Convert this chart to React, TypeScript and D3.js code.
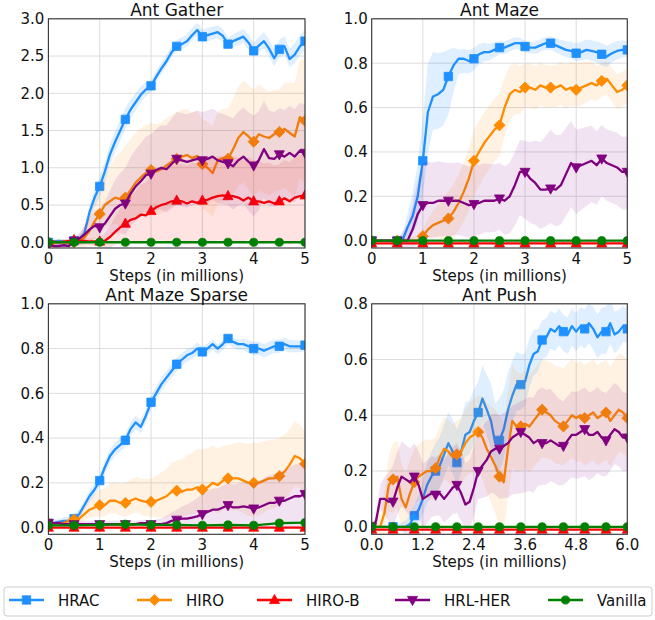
import React from "react";
import * as d3 from "d3";

// ---------- sampling grids (steps, in millions) ----------
const X5 = d3.range(51).map((i) => i / 10);
const X6 = d3.range(61).map((i) => i / 10);
const H5 = d3.range(11).map((i) => i / 2);
const H6 = d3.range(13).map((i) => i / 2);

const METHODS = ["HRAC", "HIRO", "HIRO-B", "HRL-HER", "Vanilla"];
const COLORS = ["#1E90FF", "#FF8C00", "#FF0000", "#800080", "#008000"];
const MARKERS = ["square", "diamond", "triUp", "triDown", "circle"];

// ---------- Ant Gather ----------
const GATHER_HRAC = [0.0, 0.01, 0.02, 0.01, 0.0, 0.02, 0.04, 0.12, 0.4, 0.6, 0.75, 0.95, 1.18, 1.35, 1.5, 1.65, 1.78, 1.88, 1.98, 2.05, 2.1, 2.22, 2.33, 2.43, 2.55, 2.63, 2.66, 2.7, 2.78, 2.85, 2.76, 2.78, 2.8, 2.82, 2.77, 2.66, 2.7, 2.73, 2.76, 2.68, 2.57, 2.64, 2.7, 2.6, 2.47, 2.59, 2.63, 2.46, 2.52, 2.63, 2.7];
const GATHER_HIRO = [-0.02, -0.01, 0.0, 0.0, -0.01, 0.0, 0.02, 0.06, 0.15, 0.28, 0.38, 0.5, 0.55, 0.6, 0.58, 0.6, 0.7, 0.8, 0.87, 0.93, 0.97, 0.95, 0.98, 1.03, 1.08, 1.12, 1.15, 1.17, 1.13, 1.16, 1.05, 1.0, 0.93, 1.1, 1.13, 1.12, 1.25, 1.4, 1.48, 1.42, 1.35, 1.45, 1.42, 1.4, 1.45, 1.48, 1.52, 1.47, 1.42, 1.68, 1.63];
const GATHER_HIROB = [0.0, 0.01, 0.0, 0.01, 0.02, 0.03, 0.02, 0.02, 0.01, 0.01, 0.01, 0.02, 0.07, 0.14, 0.2, 0.25, 0.3, 0.32, 0.37, 0.36, 0.42, 0.47, 0.5, 0.52, 0.55, 0.56, 0.55, 0.52, 0.55, 0.53, 0.56, 0.57, 0.6, 0.62, 0.63, 0.62, 0.62, 0.6, 0.56, 0.6, 0.55, 0.55, 0.53, 0.55, 0.52, 0.55, 0.59, 0.55, 0.6, 0.62, 0.63];
const GATHER_HRLHER = [-0.03, -0.05, -0.05, -0.04, -0.05, 0.02, 0.05, 0.1, 0.17, 0.22, 0.2, 0.25, 0.35, 0.45, 0.5, 0.52, 0.65, 0.75, 0.82, 0.9, 0.92, 0.97, 1.0, 0.98, 1.05, 1.12, 1.1, 1.08, 1.1, 1.12, 1.1, 1.12, 1.15, 1.1, 1.08, 1.06, 1.02, 1.1, 1.15, 1.08, 1.03, 1.1, 1.25, 1.13, 1.12, 1.18, 1.15, 1.2, 1.15, 1.23, 1.2];
const GATHER_VANILLA = [0, 0, 0, 0, 0, 0, 0, 0, 0, 0, 0];
const GATHER_HRAC_LO = [-0.02, -0.01, 0.6, 1.52, 2.02, 2.57, 2.68, 2.58, 2.48, 2.48, 2.58];
const GATHER_HRAC_HI = [0.03, 0.05, 0.88, 1.8, 2.18, 2.72, 2.86, 2.75, 2.68, 2.72, 2.86];
const GATHER_HIRO_LO = [-0.05, -0.03, 0.1, 0.2, 0.4, 0.5, 0.45, 0.55, 0.6, 0.7, 0.8];
const GATHER_HIRO_HI = [0.02, 0.04, 0.7, 1.3, 1.6, 1.75, 1.65, 1.8, 2.05, 2.05, 2.45];
const GATHER_HIROB_LO = [-0.02, -0.02, -0.05, 0.0, 0.0, 0.0, 0.0, 0.0, 0.0, 0.0, 0.0];
const GATHER_HIROB_HI = [0.02, 0.06, 0.06, 0.55, 0.9, 1.05, 1.1, 1.15, 1.1, 1.05, 1.2];
const GATHER_HRLHER_LO = [-0.08, -0.05, 0.0, 0.1, 0.4, 0.5, 0.5, 0.5, 0.35, 0.55, 0.6];
const GATHER_HRLHER_HI = [0.0, 0.05, 0.45, 1.0, 1.45, 1.75, 1.75, 1.7, 1.7, 1.8, 1.85];

// ---------- Ant Maze ----------
const MAZE_HRAC = [0, 0, 0, 0, 0, 0, 0, 0.06, 0.11, 0.2, 0.36, 0.58, 0.65, 0.66, 0.68, 0.74, 0.79, 0.82, 0.82, 0.81, 0.82, 0.84, 0.85, 0.85, 0.86, 0.87, 0.87, 0.88, 0.89, 0.89, 0.875, 0.87, 0.87, 0.88, 0.89, 0.89, 0.88, 0.87, 0.86, 0.855, 0.845, 0.85, 0.86, 0.855, 0.85, 0.84, 0.83, 0.845, 0.855, 0.86, 0.86];
const MAZE_HIRO = [0, 0, 0, 0, 0, 0, 0, 0, 0, 0, 0.02, 0.05, 0.07, 0.08, 0.09, 0.1, 0.13, 0.17, 0.22, 0.28, 0.36, 0.4, 0.44, 0.47, 0.5, 0.52, 0.6, 0.66, 0.68, 0.67, 0.69, 0.69, 0.68, 0.7, 0.69, 0.69, 0.69, 0.7, 0.68, 0.69, 0.68, 0.69, 0.7, 0.71, 0.7, 0.72, 0.73, 0.7, 0.67, 0.68, 0.7];
const MAZE_HIROB = [-0.012, -0.012, -0.012, -0.012, -0.012, -0.012, -0.012, -0.012, -0.012, -0.012, -0.012];
const MAZE_HRLHER = [0, 0, 0, 0, 0, 0, 0, 0, 0.05, 0.12, 0.16, 0.17, 0.17, 0.18, 0.18, 0.18, 0.18, 0.18, 0.17, 0.16, 0.165, 0.17, 0.18, 0.18, 0.18, 0.19, 0.18, 0.2, 0.25, 0.31, 0.31, 0.28, 0.26, 0.23, 0.23, 0.235, 0.23, 0.25, 0.3, 0.35, 0.33, 0.34, 0.35, 0.36, 0.34, 0.37, 0.35, 0.34, 0.33, 0.31, 0.31];
const MAZE_VANILLA = [0, 0, 0, 0, 0, 0, 0, 0, 0, 0, 0];
const MAZE_HRAC_BAND_X = [0, 0.5, 0.7, 0.9, 1.0, 1.1, 1.2, 1.4, 1.5, 1.7, 2.0, 2.5, 3.0, 3.5, 4.0, 4.5, 5.0];
const MAZE_HRAC_LO = [0, -0.01, 0.02, 0.08, 0.2, 0.4, 0.5, 0.52, 0.57, 0.75, 0.77, 0.84, 0.85, 0.86, 0.81, 0.79, 0.83];
const MAZE_HRAC_HI = [0, 0.01, 0.12, 0.35, 0.55, 0.8, 0.85, 0.85, 0.86, 0.86, 0.87, 0.9, 0.9, 0.92, 0.89, 0.89, 0.9];
const MAZE_HIRO_LO = [0, 0, 0.0, 0.0, 0.2, 0.38, 0.6, 0.6, 0.6, 0.65, 0.62];
const MAZE_HIRO_HI = [0, 0, 0.05, 0.22, 0.5, 0.66, 0.8, 0.79, 0.8, 0.8, 0.78];
const MAZE_HRLHER_LO = [0, 0, 0.0, 0.02, 0.02, 0.05, 0.1, 0.08, 0.12, 0.2, 0.14];
const MAZE_HRLHER_HI = [0, 0, 0.35, 0.35, 0.34, 0.35, 0.45, 0.5, 0.5, 0.52, 0.47];

// ---------- Ant Maze Sparse ----------
const SPARSE_HRAC = [0.02, 0.02, 0.025, 0.03, 0.03, 0.04, 0.06, 0.1, 0.14, 0.17, 0.21, 0.27, 0.32, 0.35, 0.37, 0.39, 0.44, 0.47, 0.45, 0.5, 0.56, 0.6, 0.64, 0.67, 0.7, 0.73, 0.75, 0.77, 0.78, 0.8, 0.785, 0.8, 0.82, 0.8, 0.82, 0.845, 0.83, 0.82, 0.82, 0.81, 0.8, 0.8, 0.79, 0.8, 0.81, 0.81, 0.82, 0.81, 0.81, 0.81, 0.815];
const SPARSE_HIRO = [0.02, 0.02, 0.02, 0.02, 0.03, 0.035, 0.04, 0.06, 0.08, 0.09, 0.1, 0.1, 0.12, 0.12, 0.11, 0.11, 0.12, 0.13, 0.12, 0.115, 0.115, 0.12, 0.13, 0.14, 0.16, 0.165, 0.16, 0.17, 0.17, 0.18, 0.17, 0.18, 0.2, 0.19, 0.21, 0.22, 0.22, 0.22, 0.21, 0.2, 0.2, 0.2, 0.21, 0.22, 0.22, 0.23, 0.25, 0.28, 0.32, 0.31, 0.285];
const SPARSE_HIROB = [0, 0, 0, 0, 0, 0, 0, 0, 0, 0, 0];
const SPARSE_HRLHER = [0.02, 0.02, 0.02, 0.015, 0.015, 0.015, 0.015, 0.015, 0.015, 0.015, 0.015, 0.015, 0.015, 0.015, 0.015, 0.015, 0.015, 0.015, 0.02, 0.02, 0.015, 0.015, 0.015, 0.02, 0.03, 0.035, 0.04, 0.04, 0.045, 0.05, 0.06, 0.07, 0.08, 0.08, 0.09, 0.1, 0.09, 0.09, 0.095, 0.09, 0.085, 0.09, 0.1, 0.11, 0.11, 0.12, 0.12, 0.13, 0.14, 0.14, 0.15];
const SPARSE_VANILLA = [0.01, 0.01, 0.012, 0.015, 0.012, 0.012, 0.01, 0.012, 0.01, 0.02, 0.022];
const SPARSE_HRAC_LO = [0.01, 0.02, 0.18, 0.36, 0.53, 0.7, 0.76, 0.82, 0.77, 0.78, 0.79];
const SPARSE_HRAC_HI = [0.03, 0.06, 0.24, 0.42, 0.59, 0.76, 0.81, 0.86, 0.83, 0.84, 0.84];
const SPARSE_HIRO_LO = [0.01, 0.02, 0.05, 0.05, 0.05, 0.05, 0.06, 0.08, 0.05, 0.1, 0.15];
const SPARSE_HIRO_HI = [0.03, 0.05, 0.17, 0.2, 0.22, 0.3, 0.35, 0.37, 0.38, 0.4, 0.43];
const SPARSE_HRLHER_LO = [0.01, 0.01, 0.01, 0.01, 0.01, 0.0, 0.0, 0.0, 0.0, 0.0, 0.0];
const SPARSE_HRLHER_HI = [0.03, 0.03, 0.03, 0.03, 0.03, 0.08, 0.15, 0.2, 0.2, 0.25, 0.3];

// ---------- Ant Push ----------
const PUSH_HRAC = [0, 0, 0, 0, 0, 0, 0, 0, 0, 0.01, 0.04, 0.06, 0.1, 0.15, 0.18, 0.2, 0.22, 0.26, 0.3, 0.27, 0.23, 0.27, 0.33, 0.34, 0.38, 0.41, 0.46, 0.42, 0.38, 0.3, 0.31, 0.35, 0.42, 0.47, 0.51, 0.51, 0.52, 0.58, 0.62, 0.63, 0.67, 0.68, 0.71, 0.7, 0.72, 0.7, 0.69, 0.72, 0.7, 0.72, 0.71, 0.73, 0.71, 0.68, 0.7, 0.7, 0.73, 0.69, 0.7, 0.72, 0.71];
const PUSH_HIRO = [0, 0, 0, 0.05, 0.15, 0.17, 0.18, 0.1, 0.07, 0.12, 0.16, 0.18, 0.19, 0.2, 0.2, 0.21, 0.25, 0.28, 0.27, 0.25, 0.26, 0.27, 0.3, 0.32, 0.33, 0.34, 0.32, 0.28, 0.25, 0.22, 0.18, 0.16, 0.28, 0.38, 0.36, 0.36, 0.37, 0.36, 0.38, 0.4, 0.42, 0.41, 0.4, 0.38, 0.37, 0.36, 0.38, 0.4, 0.39, 0.4, 0.39, 0.4, 0.41, 0.39, 0.4, 0.41, 0.38, 0.4, 0.42, 0.41, 0.39];
const PUSH_HIROB = [-0.01, -0.01, -0.01, -0.01, -0.01, -0.01, -0.01, -0.01, -0.01, -0.01, -0.01, -0.01, -0.01];
const PUSH_HRLHER = [0, 0.02, 0.1, 0.1, 0.09, 0.09, 0.14, 0.18, 0.17, 0.16, 0.18, 0.15, 0.1, 0.11, 0.12, 0.115, 0.12, 0.1, 0.12, 0.14, 0.15, 0.12, 0.08, 0.09, 0.14, 0.2, 0.22, 0.24, 0.27, 0.28, 0.28, 0.29, 0.3, 0.32, 0.33, 0.34, 0.33, 0.32, 0.3, 0.31, 0.3, 0.3, 0.31, 0.3, 0.29, 0.29, 0.31, 0.33, 0.33, 0.34, 0.35, 0.33, 0.33, 0.34, 0.32, 0.31, 0.33, 0.35, 0.34, 0.32, 0.32];
const PUSH_VANILLA = [0, 0, 0, 0, 0, 0, 0, 0, 0, 0, 0, 0, 0];
const PUSH_HRAC_LO = [0, 0, 0.0, 0.12, 0.15, 0.33, 0.2, 0.42, 0.6, 0.63, 0.64, 0.62, 0.66];
const PUSH_HRAC_HI = [0, 0, 0.08, 0.3, 0.35, 0.52, 0.46, 0.62, 0.74, 0.76, 0.78, 0.79, 0.78];
const PUSH_HIRO_LO = [0, 0.05, 0.08, 0.1, 0.15, 0.2, 0.0, 0.2, 0.25, 0.22, 0.22, 0.24, 0.25];
const PUSH_HIRO_HI = [0, 0.3, 0.28, 0.32, 0.38, 0.47, 0.4, 0.55, 0.6, 0.57, 0.58, 0.6, 0.6];
const PUSH_HRLHER_LO = [0, 0.0, 0.05, 0.04, 0.05, 0.1, 0.1, 0.12, 0.15, 0.15, 0.18, 0.18, 0.2];
const PUSH_HRLHER_HI = [0, 0.22, 0.3, 0.25, 0.3, 0.35, 0.4, 0.45, 0.5, 0.45, 0.5, 0.48, 0.48];

const X_TICKS_5 = [0, 1, 2, 3, 4, 5];
const X_TICKS_6 = [0, 1.2, 2.4, 3.6, 4.8, 6.0];
const Y_TICKS_GATHER = [0, 0.5, 1.0, 1.5, 2.0, 2.5, 3.0];
const Y_TICKS_1 = [0, 0.2, 0.4, 0.6, 0.8, 1.0];
const Y_TICKS_PUSH = [0, 0.2, 0.4, 0.6, 0.8];

type Band = { xs: number[]; lo: number[]; hi: number[] };
type Series = { idx: number; xs: number[]; ys: number[]; band?: Band };
type Panel = {
  title: string;
  xMax: number;
  xTicks: number[];
  xFmt: (v: number) => string;
  yMin: number;
  yMax: number;
  yTicks: number[];
  series: Series[];
  left: number;
  right: number;
  top: number;
  bottom: number;
};

const fmtInt = (v: number) => d3.format("d")(v);
const fmt1 = (v: number) => d3.format(".1f")(v);

const PANELS: Panel[] = [
  {
    title: "Ant Gather", xMax: 5, xTicks: X_TICKS_5, xFmt: fmtInt, yMin: -0.077, yMax: 3.0, yTicks: Y_TICKS_GATHER,
    left: 48.4, right: 305, top: 18.8, bottom: 248,
    series: [
      { idx: 0, xs: X5, ys: GATHER_HRAC, band: { xs: H5, lo: GATHER_HRAC_LO, hi: GATHER_HRAC_HI } },
      { idx: 1, xs: X5, ys: GATHER_HIRO, band: { xs: H5, lo: GATHER_HIRO_LO, hi: GATHER_HIRO_HI } },
      { idx: 2, xs: X5, ys: GATHER_HIROB, band: { xs: H5, lo: GATHER_HIROB_LO, hi: GATHER_HIROB_HI } },
      { idx: 3, xs: X5, ys: GATHER_HRLHER, band: { xs: H5, lo: GATHER_HRLHER_LO, hi: GATHER_HRLHER_HI } },
      { idx: 4, xs: H5, ys: GATHER_VANILLA },
    ],
  },
  {
    title: "Ant Maze", xMax: 5, xTicks: X_TICKS_5, xFmt: fmtInt, yMin: -0.033, yMax: 1.0, yTicks: Y_TICKS_1,
    left: 371.7, right: 627.3, top: 18.8, bottom: 248,
    series: [
      { idx: 0, xs: X5, ys: MAZE_HRAC, band: { xs: MAZE_HRAC_BAND_X, lo: MAZE_HRAC_LO, hi: MAZE_HRAC_HI } },
      { idx: 1, xs: X5, ys: MAZE_HIRO, band: { xs: H5, lo: MAZE_HIRO_LO, hi: MAZE_HIRO_HI } },
      { idx: 2, xs: H5, ys: MAZE_HIROB },
      { idx: 3, xs: X5, ys: MAZE_HRLHER, band: { xs: H5, lo: MAZE_HRLHER_LO, hi: MAZE_HRLHER_HI } },
      { idx: 4, xs: H5, ys: MAZE_VANILLA },
    ],
  },
  {
    title: "Ant Maze Sparse", xMax: 5, xTicks: X_TICKS_5, xFmt: fmtInt, yMin: -0.03, yMax: 1.0, yTicks: Y_TICKS_1,
    left: 48.4, right: 305, top: 303.8, bottom: 534.3,
    series: [
      { idx: 0, xs: X5, ys: SPARSE_HRAC, band: { xs: H5, lo: SPARSE_HRAC_LO, hi: SPARSE_HRAC_HI } },
      { idx: 1, xs: X5, ys: SPARSE_HIRO, band: { xs: H5, lo: SPARSE_HIRO_LO, hi: SPARSE_HIRO_HI } },
      { idx: 2, xs: H5, ys: SPARSE_HIROB },
      { idx: 3, xs: X5, ys: SPARSE_HRLHER, band: { xs: H5, lo: SPARSE_HRLHER_LO, hi: SPARSE_HRLHER_HI } },
      { idx: 4, xs: H5, ys: SPARSE_VANILLA },
    ],
  },
  {
    title: "Ant Push", xMax: 6, xTicks: X_TICKS_6, xFmt: fmt1, yMin: -0.027, yMax: 0.8, yTicks: Y_TICKS_PUSH,
    left: 371.7, right: 627.3, top: 303.8, bottom: 534.3,
    series: [
      { idx: 0, xs: X6, ys: PUSH_HRAC, band: { xs: H6, lo: PUSH_HRAC_LO, hi: PUSH_HRAC_HI } },
      { idx: 1, xs: X6, ys: PUSH_HIRO, band: { xs: H6, lo: PUSH_HIRO_LO, hi: PUSH_HIRO_HI } },
      { idx: 2, xs: H6, ys: PUSH_HIROB },
      { idx: 3, xs: X6, ys: PUSH_HRLHER, band: { xs: H6, lo: PUSH_HRLHER_LO, hi: PUSH_HRLHER_HI } },
      { idx: 4, xs: H6, ys: PUSH_VANILLA },
    ],
  },
];

const FONT = "DejaVu Sans, Verdana, sans-serif";

function markerPath(kind: string): string {
  switch (kind) {
    case "square":
      return "M-4.2,-4.2h8.4v8.4h-8.4z";
    case "diamond":
      return "M0,-5.6L5.6,0L0,5.6L-5.6,0Z";
    case "triUp":
      return "M0,-5.6L5,3.6L-5,3.6Z";
    case "triDown":
      return "M0,5.6L5,-3.6L-5,-3.6Z";
    default:
      return d3.symbol(d3.symbolCircle, 52)() || "";
  }
}

function PanelView({ p, id }: { p: Panel; id: number }) {
  const x = d3.scaleLinear().domain([0, p.xMax]).range([p.left, p.right]);
  const y = d3.scaleLinear().domain([p.yMin, p.yMax]).range([p.bottom, p.top]);
  const clipId = `clip-${id}`;
  const line = d3
    .line<[number, number]>()
    .x((d) => x(d[0]))
    .y((d) => y(d[1]));
  const area = d3
    .area<{ x: number; lo: number; hi: number }>()
    .x((d) => x(d.x))
    .y0((d) => y(d.lo))
    .y1((d) => y(d.hi));
  const isHalf = (v: number) => Math.abs(v * 2 - Math.round(v * 2)) < 1e-6;
  const cx = (p.left + p.right) / 2;

  return (
    <g>
      <defs>
        <clipPath id={clipId}>
          <rect x={p.left} y={p.top} width={p.right - p.left} height={p.bottom - p.top} />
        </clipPath>
      </defs>
      {/* grid */}
      {p.xTicks.map((t) => (
        <line key={"gx" + t} x1={x(t)} x2={x(t)} y1={p.top} y2={p.bottom} stroke="#dcdcdc" strokeWidth={1} />
      ))}
      {p.yTicks.map((t) => (
        <line key={"gy" + t} x1={p.left} x2={p.right} y1={y(t)} y2={y(t)} stroke="#dcdcdc" strokeWidth={1} />
      ))}
      <g clipPath={`url(#${clipId})`}>
        {p.series.map((s) => {
          const color = COLORS[s.idx];
          let bandPath: string | null = null;
          if (s.band) {
            const b = s.band;
            const valAt = (xv: number) => {
              const i = s.xs.findIndex((v) => Math.abs(v - xv) < 1e-9);
              return s.ys[i];
            };
            const offLo = d3.scaleLinear().domain(b.xs).range(b.lo.map((v, k) => v - valAt(b.xs[k])));
            const offHi = d3.scaleLinear().domain(b.xs).range(b.hi.map((v, k) => v - valAt(b.xs[k])));
            const pts = s.xs.map((xv, i) => ({ x: xv, lo: s.ys[i] + offLo(xv), hi: s.ys[i] + offHi(xv) }));
            bandPath = area(pts);
          }
          const pts: [number, number][] = s.xs.map((xv, i) => [xv, s.ys[i]]);
          const mk = markerPath(MARKERS[s.idx]);
          return (
            <g key={s.idx}>
              {bandPath && <path d={bandPath} fill={color} fillOpacity={s.idx === 0 ? 0.14 : 0.11} stroke="none" />}
              <path d={line(pts) || ""} fill="none" stroke={color} strokeWidth={2.3} strokeLinejoin="round" />
              {pts
                .filter((d) => isHalf(d[0]))
                .map((d, k) => (
                  <path key={k} d={mk} transform={`translate(${x(d[0])},${y(d[1])})`} fill={color} stroke={color} strokeWidth={0.8} />
                ))}
            </g>
          );
        })}
      </g>
      {/* frame */}
      <rect x={p.left} y={p.top} width={p.right - p.left} height={p.bottom - p.top} fill="none" stroke="#333" strokeWidth={1.1} />
      {/* ticks */}
      {p.yTicks.map((t) => (
        <text key={"ty" + t} x={p.left - 4} y={y(t)} dy="0.36em" textAnchor="end" fontFamily={FONT} fontSize={15} fill="#111">
          {fmt1(t)}
        </text>
      ))}
      {p.xTicks.map((t) => (
        <text key={"tx" + t} x={x(t)} y={p.bottom + 15.5} textAnchor="middle" fontFamily={FONT} fontSize={15} fill="#111">
          {p.xFmt(t)}
        </text>
      ))}
      <text x={cx} y={p.bottom + 32.5} textAnchor="middle" fontFamily={FONT} fontSize={15} fill="#111">
        Steps (in millions)
      </text>
      <text x={cx} y={p.top - 2.8} textAnchor="middle" fontFamily={FONT} fontSize={17} fill="#111">
        {p.title}
      </text>
    </g>
  );
}

const LEGEND_X = [9, 137, 257, 395, 548];

export default function App() {
  return (
    <svg
      width={655}
      height={620}
      viewBox="0 0 655 620"
      style={{ position: "absolute", left: 0, top: 0, background: "#fff" }}
    >
      <rect x={0} y={0} width={655} height={620} fill="#fff" />
      {PANELS.map((p, i) => (
        <PanelView key={i} p={p} id={i} />
      ))}
      <g>
        <rect x={4} y={587} width={648} height={29} rx={3} fill="#fff" stroke="#cccccc" strokeWidth={1} />
        {METHODS.map((m, i) => {
          const lx = LEGEND_X[i];
          return (
            <g key={m}>
              <line x1={lx} x2={lx + 35} y1={600} y2={600} stroke={COLORS[i]} strokeWidth={2.3} />
              <path d={markerPath(MARKERS[i])} transform={`translate(${lx + 17.5},600)`} fill={COLORS[i]} stroke={COLORS[i]} strokeWidth={0.8} />
              <text x={lx + 49} y={605.5} fontFamily={FONT} fontSize={15} fill="#111">
                {m}
              </text>
            </g>
          );
        })}
      </g>
    </svg>
  );
}
